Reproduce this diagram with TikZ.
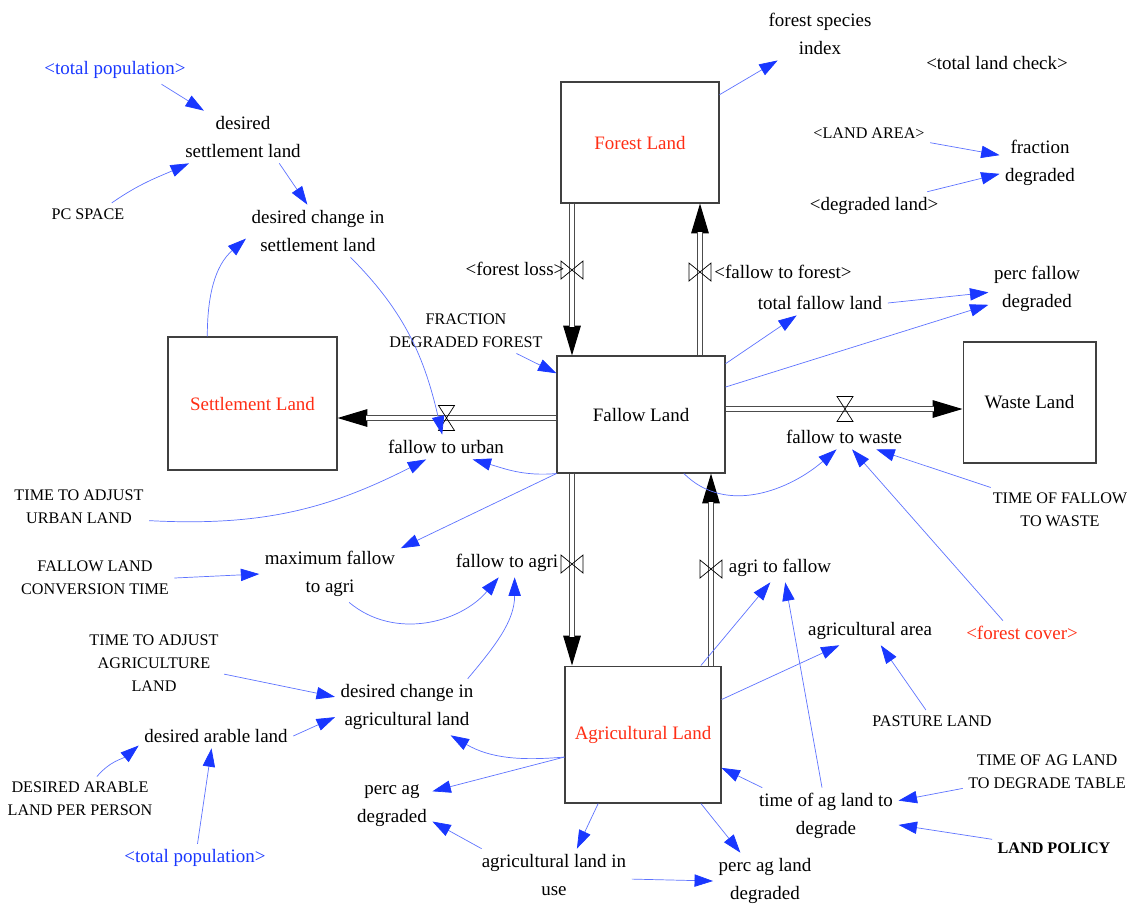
\documentclass[tikz,border=0pt]{standalone}
\usepackage{fontspec}
\setmainfont{Liberation Serif}
\usetikzlibrary{arrows.meta, calc}
\definecolor{linkblue}{RGB}{25,55,255}
\definecolor{stockred}{RGB}{255,45,20}

\begin{document}
\begin{tikzpicture}[x=0.02cm, y=-0.02cm,
  stock/.style={draw=black!75, line width=0.6pt, align=center, font=\fontsize{10.8}{16}\selectfont},
  aux/.style={align=center, inner sep=3pt, font=\fontsize{10.8}{16}\selectfont},
  const/.style={align=center, inner sep=3pt, font=\fontsize{9.2}{13}\selectfont},
  link/.style={draw=linkblue!70, line width=0.4pt, -{Triangle[length=10.5pt,width=7pt,color=linkblue]}},
  pipe/.style={draw=black!70, line width=0.6pt, double=white, double distance=2.6pt, shorten >=16pt},
  flowtip/.style={line width=0.6pt, -{Triangle[length=17pt,width=10pt]}},
  valveh/.pic={\draw[line width=0.4pt] (-8,-12.5) -- (8,-12.5) -- (-8,12.5) -- (8,12.5) -- cycle;},
  valvev/.pic={\draw[line width=0.4pt] (-11,-9) -- (-11,9) -- (11,-9) -- (11,9) -- cycle;}]
\useasboundingbox (0,0) rectangle (1135,914);

\node[stock, minimum width=3.16cm, minimum height=2.42cm, text=stockred] (forest) at (640,142.5) {Forest Land};
\node[stock, minimum width=3.36cm, minimum height=2.34cm] (fallow) at (641,414.5) {Fallow Land};
\node[stock, minimum width=3.38cm, minimum height=2.66cm, text=stockred] (settle) at (252.5,403.5) {Settlement Land};
\node[stock, minimum width=2.66cm, minimum height=2.42cm] (waste) at (1029.5,402.5) {Waste Land};
\node[stock, minimum width=3.12cm, minimum height=2.74cm, text=stockred] (agri) at (643,734.5) {Agricultural Land};

\coordinate (vloss) at (572,270);
\coordinate (vforest) at (700,272);
\coordinate (vurban) at (446.5,418);
\coordinate (vwaste) at (845,409);
\coordinate (vagri) at (572,564);
\coordinate (vafallow) at (711,569);

\draw[flowtip] (vloss |- forest.south) -- (vloss |- fallow.north);
\draw[pipe] (vloss |- forest.south) -- (vloss |- fallow.north);
\draw[flowtip] (vforest |- fallow.north) -- (vforest |- forest.south);
\draw[pipe] (vforest |- fallow.north) -- (vforest |- forest.south);
\draw[flowtip] (vurban -| fallow.west) -- (vurban -| settle.east);
\draw[pipe] (vurban -| fallow.west) -- (vurban -| settle.east);
\draw[flowtip] (vwaste -| fallow.east) -- (vwaste -| waste.west);
\draw[pipe] (vwaste -| fallow.east) -- (vwaste -| waste.west);
\draw[flowtip] (vagri |- fallow.south) -- (vagri |- agri.north);
\draw[pipe] (vagri |- fallow.south) -- (vagri |- agri.north);
\draw[flowtip] (vafallow |- agri.north) -- (vafallow |- fallow.south);
\draw[pipe] (vafallow |- agri.north) -- (vafallow |- fallow.south);

\pic at (vloss) {valvev};
\pic at (vforest) {valvev};
\pic at (vurban) {valveh};
\pic at (vwaste) {valveh};
\pic at (vagri) {valvev};
\pic at (vafallow) {valvev};

\node[aux] (floss) at (515,269) {<forest loss>};
\node[aux] (fforest) at (783,272) {<fallow to forest>};
\node[aux] (furban) at (446,447) {fallow to urban};
\node[aux] (fwaste) at (844,437) {fallow to waste};
\node[aux] (fagri) at (507,563) {fallow to agri};
\node[aux] (afallow) at (780,568) {agri to fallow};

\node[aux, text=linkblue] (tpop1) at (115,70) {<total population>};
\node[aux] (dsl) at (243,137) {desired\\settlement land};
\node[const] (pcs) at (88,214) {PC SPACE};
\node[aux] (dcsl) at (318,231) {desired change in\\settlement land};
\node[aux] (fsi) at (820,34) {forest species\\index};
\node[aux] (tlc) at (997,63) {<total land check>};
\node[const] (landarea) at (869,133) {<LAND AREA>};
\node[aux] (fdeg) at (1040,163) {fraction\\degraded};
\node[aux] (degland) at (874,206) {<degraded land>};
\node[aux] (tfl) at (820,303) {total fallow land};
\node[aux] (pfd) at (1037,289) {perc fallow\\degraded};
\node[const] (fdf) at (466,331) {FRACTION\\DEGRADED FOREST};
\node[const] (tau) at (79,507) {TIME TO ADJUST\\URBAN LAND};
\node[const] (tofw) at (1060,510) {TIME OF FALLOW\\TO WASTE};
\node[const] (flct) at (95,578) {FALLOW LAND\\CONVERSION TIME};
\node[aux] (mfa) at (330,574) {maximum fallow\\to agri};
\node[aux] (agarea) at (870,631) {agricultural area};
\node[aux, text=stockred] (fcover) at (1022,633) {<forest cover>};
\node[const] (taal) at (154,663) {TIME TO ADJUST\\AGRICULTURE\\LAND};
\node[aux] (dcal) at (407,707) {desired change in\\agricultural land};
\node[aux] (dal) at (216,736) {desired arable land};
\node[const] (pasture) at (932,721) {PASTURE LAND};
\node[const] (tagt) at (1047,772) {TIME OF AG LAND\\TO DEGRADE TABLE};
\node[const] (dalpp) at (80,799) {DESIRED ARABLE\\LAND PER PERSON};
\node[aux] (pagd) at (392,806) {perc ag\\degraded};
\node[aux] (ttd) at (826,816) {time of ag land to\\degrade};
\node[const, font=\fontsize{9.2}{13}\selectfont\bfseries] (lpol) at (1054,848) {LAND POLICY};
\node[aux, text=linkblue] (tpop2) at (195,858) {<total population>};
\node[aux] (aliu) at (554,875) {agricultural land in\\use};
\node[aux] (pald) at (765,881) {perc ag land\\degraded};

\draw[link] (tpop1.-17) -- (dsl.146);
\draw[link] (pcs.25) to[out=35,in=-156] (dsl.-154);
\draw[link] (dsl.-36) -- (dcsl.112);
\draw[link] (settle.124) to[out=90,in=-139] (dcsl.186);
\draw[link] (dcsl.-39) to[out=-45,in=103] (furban.107);
\draw[link] (fdf.-24) -- (fallow.154);
\draw[link] (forest.31) -- (fsi.-148);
\draw[link] (landarea.-9) -- (fdeg.169);
\draw[link] (degland.15) -- (fdeg.-165);
\draw[link] (tfl.east) -- (pfd.-176);
\draw[link] (fallow.31) -- (tfl.-152);
\draw[link] (fallow.18) -- (pfd.-162);
\draw[link] (fallow.south west) to[out=185,in=-16] (furban.-25);
\draw[link] (tau.-11) to[out=-3,in=207] (furban.-148);
\draw[link] (fallow.south west) -- (mfa.20);
\draw[link] (flct.east) -- (mfa.west);
\draw[link] (mfa.-56) to[out=-40,in=-130] (fagri.-120);
\draw[link] (dcal.25) to[out=50,in=-90] (fagri.-62);
\draw[link] (fallow.-54) to[out=-45,in=-139] (fwaste.-121);
\draw[link] (fcover.147) -- (fwaste.-57);
\draw[link] (tofw.162) -- (fwaste.-21);
\draw[link] (agri.50) -- (afallow.-124);
\draw[link] (ttd.98) -- (afallow.-70);
\draw[link] (agri.24) -- (agarea.-155);
\draw[link] (pasture.119) -- (agarea.-53);
\draw[link] (tagt.191) -- (ttd.12);
\draw[link] (lpol.172) -- (ttd.-7);
\draw[link] (ttd.156) -- (agri.-23);
\draw[link] (agri.-50) -- (pald.131);
\draw[link] (agri.-123) -- (aliu.49);
\draw[link] (aliu.-3) -- (pald.west);
\draw[link] (aliu.160) -- (pagd.-21);
\draw[link] (agri.-164) -- (pagd.20);
\draw[link] (agri.-164) to[out=185,in=-30] (dcal.-33);
\draw[link] (dal.east) -- (dcal.-172);
\draw[link] (taal.-9) -- (dcal.172);
\draw[link] (dalpp.53) to[out=50,in=-140] (dal.-173);
\draw[link] (tpop2.80) -- (dal.-110);
\end{tikzpicture}
\end{document}
